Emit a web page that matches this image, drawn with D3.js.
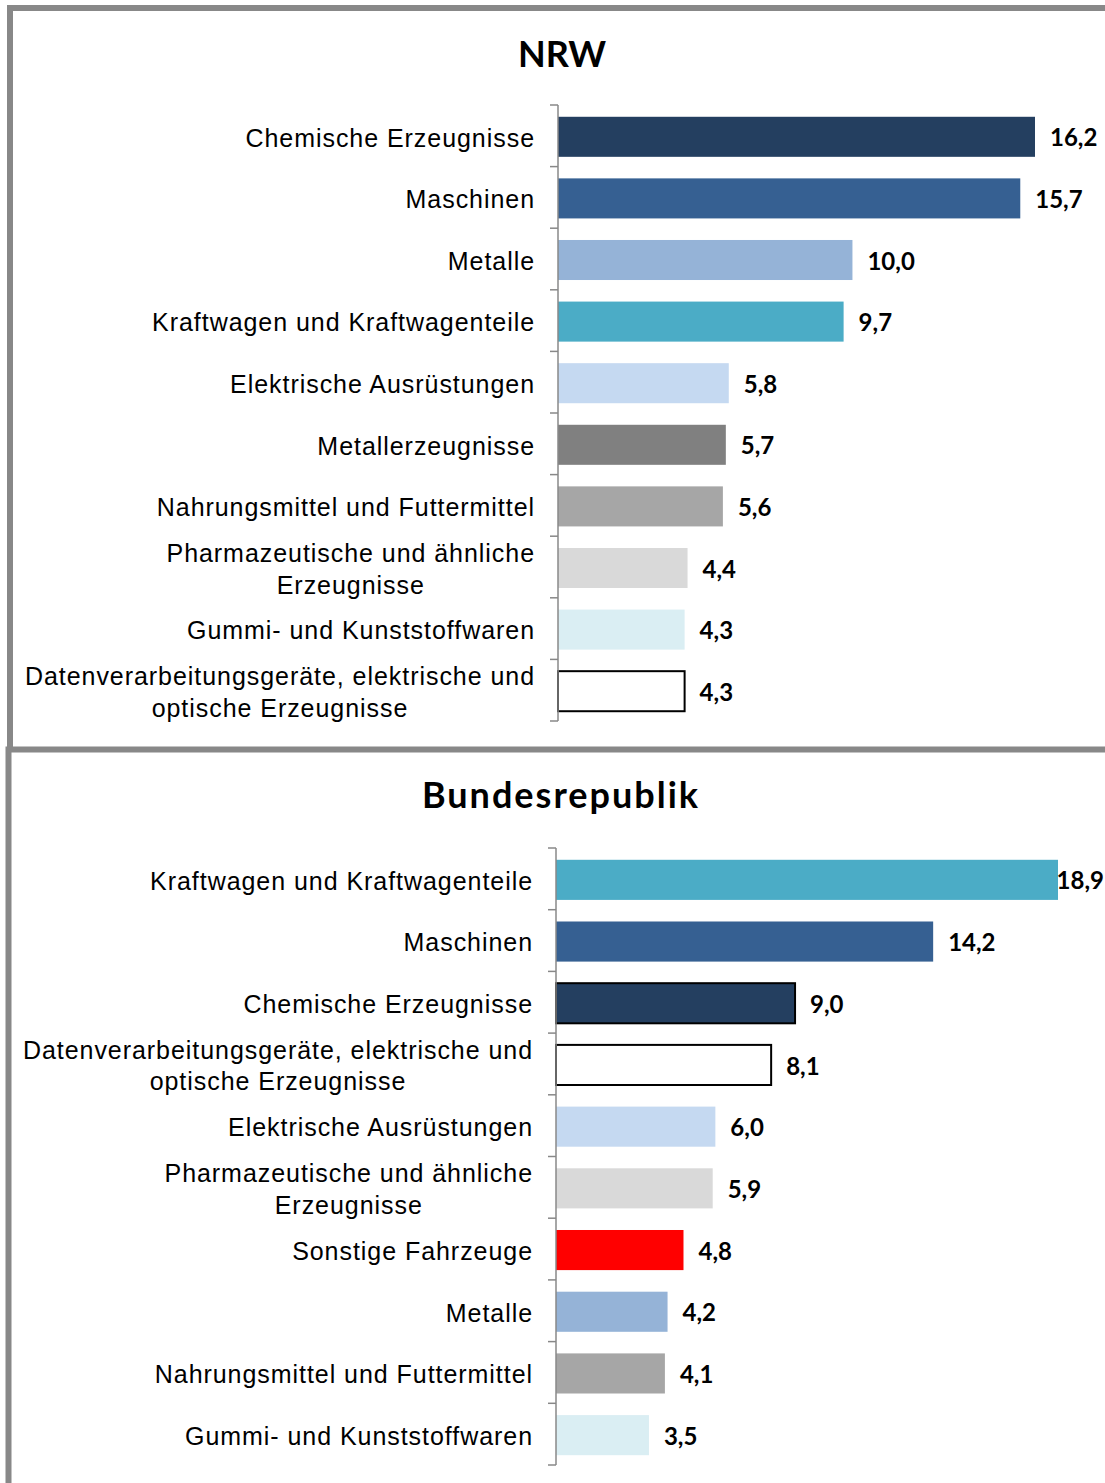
<!DOCTYPE html>
<html>
<head>
<meta charset="utf-8">
<script src="https://cdn.jsdelivr.net/npm/d3@7"></script>
<style>
  body { margin: 0; background: #fff; }
  svg { display: block; }
</style>
</head>
<body>
<div id="chart"></div>
<script>
// data: NRW
const nrwCategories = [
  "Chemische Erzeugnisse",
  "Maschinen",
  "Metalle",
  "Kraftwagen und Kraftwagenteile",
  "Elektrische Ausrüstungen",
  "Metallerzeugnisse",
  "Nahrungsmittel und Futtermittel",
  "Pharmazeutische und ähnliche\nErzeugnisse",
  "Gummi- und Kunststoffwaren",
  "Datenverarbeitungsgeräte, elektrische und\noptische Erzeugnisse"
];
const nrwValues = [16.2, 15.7, 10.0, 9.7, 5.8, 5.7, 5.6, 4.4, 4.3, 4.3];

// data: Bundesrepublik
const brdCategories = [
  "Kraftwagen und Kraftwagenteile",
  "Maschinen",
  "Chemische Erzeugnisse",
  "Datenverarbeitungsgeräte, elektrische und\noptische Erzeugnisse",
  "Elektrische Ausrüstungen",
  "Pharmazeutische und ähnliche\nErzeugnisse",
  "Sonstige Fahrzeuge",
  "Metalle",
  "Nahrungsmittel und Futtermittel",
  "Gummi- und Kunststoffwaren"
];
const brdValues = [18.9, 14.2, 9.0, 8.1, 6.0, 5.9, 4.8, 4.2, 4.1, 3.5];

// colour per category (same in both panels)
const fillColor = {
  "Chemische Erzeugnisse": "#243f60",
  "Maschinen": "#366092",
  "Metalle": "#95b3d7",
  "Kraftwagen und Kraftwagenteile": "#4bacc6",
  "Elektrische Ausrüstungen": "#c5d9f1",
  "Metallerzeugnisse": "#808080",
  "Nahrungsmittel und Futtermittel": "#a6a6a6",
  "Pharmazeutische und ähnliche\nErzeugnisse": "#d9d9d9",
  "Gummi- und Kunststoffwaren": "#daeef3",
  "Datenverarbeitungsgeräte, elektrische und\noptische Erzeugnisse": "#ffffff",
  "Sonstige Fahrzeuge": "#ff0000"
};

const W = 1105, H = 1483;
const de = d3.formatLocale({decimal: ",", thousands: ".", grouping: [3], currency: ["", " €"]});
const fmt = de.format(".1f");

const svg = d3.select("#chart").append("svg")
  .attr("width", W)
  .attr("height", H);

// panel frames (grey lines, open at the right)
const frame = svg.append("g")
  .attr("stroke", "#888")
  .attr("stroke-width", 6)
  .attr("fill", "none");
frame.append("path").attr("d", `M10,750 V8 H${W}`);
frame.append("path").attr("d", `M8.5,${H} V749.5 H${W}`);

function drawPanel(title, cats, vals, opt) {
  const g = svg.append("g");

  // title
  g.append("text")
    .attr("x", opt.titleX)
    .attr("y", opt.titleY)
    .attr("text-anchor", "middle")
    .style("font-family", "Lato, 'Open Sans', sans-serif")
    .style("font-weight", "bold")
    .style("font-size", "36px")
    .style("letter-spacing", opt.titleSpacing + "px")
    .text(title);

  // scales
  const y = d3.scaleBand()
    .domain(cats)
    .range([opt.top, opt.bottom])
    .paddingInner(0.35)
    .paddingOuter(0.175);

  const x = d3.scaleLinear()
    .domain([0, opt.maxVal])
    .range([opt.axisX, opt.maxX]);

  const rows = cats.map((c, i) => ({cat: c, val: vals[i]}));

  // bars
  g.selectAll("rect.bar")
    .data(rows)
    .enter()
    .append("rect")
      .attr("class", "bar")
      .attr("x", x(0))
      .attr("y", d => y(d.cat) + 1)
      .attr("width", d => x(d.val) - x(0))
      .attr("height", y.bandwidth())
      .attr("fill", d => fillColor[d.cat])
      .attr("stroke", d => opt.outlined.includes(d.cat) ? "#000" : "none")
      .attr("stroke-width", 2);

  // axis: vertical line with ticks at band edges
  const axis = g.append("g")
    .attr("stroke", "#888")
    .attr("stroke-width", 1.5);
  axis.append("line")
    .attr("x1", opt.axisX).attr("x2", opt.axisX)
    .attr("y1", opt.top).attr("y2", opt.bottom);
  axis.selectAll("line.tick")
    .data(d3.range(cats.length + 1))
    .enter()
    .append("line")
      .attr("class", "tick")
      .attr("x1", opt.axisX - 8).attr("x2", opt.axisX)
      .attr("y1", i => opt.top + i * y.step())
      .attr("y2", i => opt.top + i * y.step());

  // category labels (multi-line ones centred inside a right-aligned block)
  const labels = g.selectAll("g.lab")
    .data(rows)
    .enter()
    .append("g")
      .attr("class", "lab")
      .attr("transform", d => `translate(${opt.axisX - 23}, ${y(d.cat) + y.bandwidth() / 2 + 2})`);

  labels.each(function(d) {
    const lines = d.cat.split("\n");
    const sel = d3.select(this);
    const txt = sel.selectAll("text")
      .data(lines)
      .enter()
      .append("text")
        .attr("y", (l, i) => (i - (lines.length - 1) / 2) * 31.5)
        .attr("dy", "0.35em")
        .style("font-family", "'Liberation Sans', Arial, sans-serif")
        .style("font-size", "25px")
        .style("letter-spacing", "0.95px")
        .style("fill", "#000")
        .text(l => l);
    const widths = txt.nodes().map(n => n.getComputedTextLength());
    const bw = d3.max(widths);
    txt.attr("x", -bw / 2).attr("text-anchor", "middle");
  });

  // value labels
  g.selectAll("text.val")
    .data(rows)
    .enter()
    .append("text")
      .attr("class", "val")
      .attr("y", d => y(d.cat) + y.bandwidth() / 2 + 2)
      .attr("dy", "0.36em")
      .style("font-family", "Lato, 'Open Sans', sans-serif")
      .style("font-weight", "bold")
      .style("font-size", "24px")
      .text(d => fmt(d.val))
      .attr("x", function(d) {
        const w = this.getComputedTextLength();
        return Math.min(x(d.val) + 15, W - w - 1);
      });
}

drawPanel("NRW", nrwCategories, nrwValues, {
  titleX: 562, titleY: 67, titleSpacing: 0,
  top: 105, bottom: 721,
  axisX: 558, maxVal: 16.2, maxX: 1035,
  outlined: ["Datenverarbeitungsgeräte, elektrische und\noptische Erzeugnisse"]
});

drawPanel("Bundesrepublik", brdCategories, brdValues, {
  titleX: 561, titleY: 808, titleSpacing: 2,
  top: 848, bottom: 1465,
  axisX: 556, maxVal: 18.9, maxX: 1058,
  outlined: ["Chemische Erzeugnisse", "Datenverarbeitungsgeräte, elektrische und\noptische Erzeugnisse"]
});
</script>
</body>
</html>
